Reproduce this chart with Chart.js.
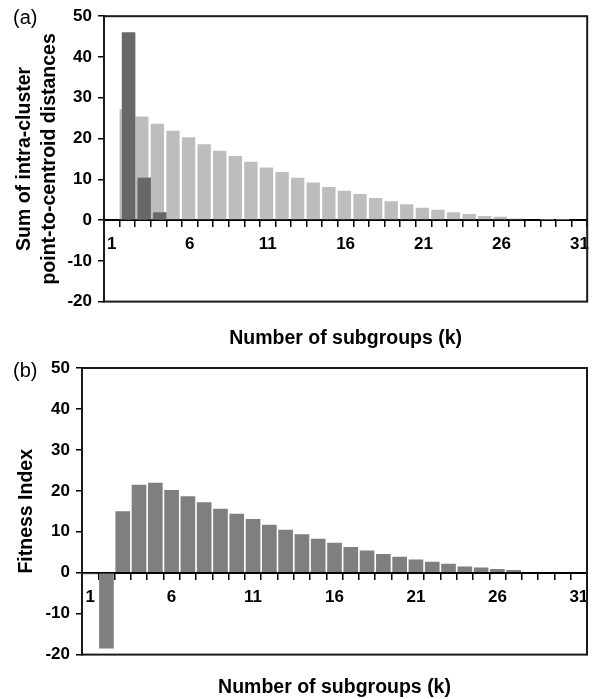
<!DOCTYPE html>
<html>
<head>
<meta charset="utf-8">
<script src="https://cdn.jsdelivr.net/npm/chart.js@4.4.1/dist/chart.umd.min.js"></script>
<style>
body { margin: 0; background: #fff; font-family: "Liberation Sans", Arial, sans-serif; }
#wrap { position: relative; width: 597px; height: 699px; }
canvas { position: absolute; left: 0; }
.tag { position: absolute; left: 13px; font-size: 20px; line-height: 24px; color: #000; }
</style>
</head>
<body>
<div id="wrap">
	<canvas id="cvsA" width="597" height="350" style="top:0px"></canvas>
	<canvas id="cvsB" width="597" height="349" style="top:350px"></canvas>
	<div class="tag" style="top:5px">(a)</div>
	<div class="tag" style="top:358px">(b)</div>
</div>
<script>
// number of subgroups k
var subgroups = [1, 2, 3, 4, 5, 6, 7, 8, 9, 10, 11, 12, 13, 14, 15, 16, 17, 18, 19, 20, 21, 22, 23, 24, 25, 26, 27, 28, 29, 30, 31];
var shownTicks = [1, 6, 11, 16, 21, 26, 31];

// (a) sum of intra-cluster point-to-centroid distances
var distances = [0.2, 27.2, 25.4, 23.6, 21.9, 20.3, 18.6, 17.0, 15.7, 14.3, 12.9, 11.8, 10.4, 9.2, 8.1, 7.2, 6.4, 5.4, 4.6, 3.9, 3.0, 2.5, 1.9, 1.5, 1.0, 0.8, 0.4, 0.2, 0.05, 0.05, 0.2];
var distanceDrop = [null, 46.0, 10.4, 1.9, null, null, null, null, null, null, null, null, null, null, null, null, null, null, null, null, null, null, null, null, null, null, null, null, null, null, null];

// (b) fitness index
var fitness = [-0.4, -18.5, 15.0, 21.5, 22.0, 20.2, 18.7, 17.2, 15.6, 14.4, 13.1, 11.7, 10.5, 9.4, 8.3, 7.3, 6.3, 5.4, 4.6, 3.9, 3.2, 2.7, 2.2, 1.5, 1.3, 0.9, 0.65, 0.2, 0.15, 0.2, -0.2];

var yTicks = { min: -20, max: 50, step: 10 };

Chart.defaults.font.family = '"Liberation Sans", Arial, sans-serif';
Chart.defaults.color = "#000";

// box around the plot area + put the dark series back on top
var framePlugin = {
	id: "frame",
	afterDatasetsDraw: function(chart) {
		var meta = chart.getDatasetMeta(1);
		if (meta && meta.controller && !meta.hidden) {
			meta.controller.draw();
		}
	},
	afterDraw: function(chart) {
		var a = chart.chartArea;
		var ctx = chart.ctx;
		ctx.save();
		ctx.strokeStyle = "#1a1a1a";
		ctx.lineWidth = 2;
		ctx.strokeRect(a.left, a.top, a.right - a.left, a.bottom - a.top);
		ctx.restore();
	}
};

function buildScales(axisWidth, yTitle, yTitlePad) {
	return {
		x: {
			type: "category",
			position: { y: 0 },
			offset: true,
			grid: { offset: true, drawOnChartArea: false, drawTicks: true, tickLength: 6, color: "#000", lineWidth: 1.5 },
			border: { display: true, color: "#000", width: 2 },
			ticks: {
				autoSkip: false,
				maxRotation: 0,
				padding: 8,
				font: { size: 17, weight: "bold" },
				callback: function(value, index) {
					var k = subgroups[index];
					return shownTicks.indexOf(k) >= 0 ? String(k) : "";
				}
			}
		},
		y: {
			min: yTicks.min,
			max: yTicks.max,
			grid: { drawOnChartArea: false, drawTicks: true, tickLength: 6, color: "#000", lineWidth: 1.5 },
			border: { display: true, color: "#000", width: 2 },
			ticks: { stepSize: yTicks.step, padding: 6, font: { size: 17, weight: "bold" } },
			title: {
				display: true,
				text: yTitle,
				font: { size: 19.5, weight: "bold", lineHeight: 1.3 },
				padding: { top: yTitlePad, bottom: 0 }
			},
			afterFit: function(scale) {
				scale.width = axisWidth;
			}
		}
	};
}

function drawChart(cvs, datasets, opts) {
	new Chart(cvs, {
		type: "bar",
		data: {
			labels: subgroups,
			datasets: datasets
		},
		options: {
			responsive: false,
			maintainAspectRatio: false,
			animation: false,
			layout: { padding: { top: opts.padTop, right: opts.padRight, bottom: 0, left: 0 } },
			scales: buildScales(opts.axisWidth, opts.yTitle, opts.yTitlePad),
			plugins: {
				legend: { display: false },
				tooltip: { enabled: false },
				title: {
					display: true,
					position: "bottom",
					fullSize: false,
					text: "Number of subgroups (k)",
					color: "#000",
					font: { size: 19.5, weight: "bold", lineHeight: 1.2 },
					padding: { top: opts.titlePadTop, bottom: opts.titlePadBottom }
				}
			}
		},
		plugins: [framePlugin]
	});
}

drawChart(document.getElementById("cvsA"), [
	{
		label: "Sum of distances",
		data: distances,
		backgroundColor: "#bdbdbd",
		borderWidth: 0,
		categoryPercentage: 0.3,
		barPercentage: 5.7
	},
	{
		label: "Drop",
		data: distanceDrop,
		backgroundColor: "#686868",
		borderWidth: 0,
		categoryPercentage: 0.3,
		barPercentage: 5.7
	}
], {
	axisWidth: 104,
	padTop: 13,
	padRight: 8,
	yTitle: ["Sum of intra-cluster", "point-to-centroid distances"],
	yTitlePad: 12,
	titlePadTop: 25,
	titlePadBottom: 0
});

drawChart(document.getElementById("cvsB"), [
	{
		label: "Fitness Index",
		data: fitness,
		backgroundColor: "#7f7f7f",
		borderWidth: 0,
		categoryPercentage: 1,
		barPercentage: 0.9
	}
], {
	axisWidth: 82,
	padTop: 18,
	padRight: 10,
	yTitle: "Fitness Index",
	yTitlePad: 14,
	titlePadTop: 21,
	titlePadBottom: 0
});
</script>
</body>
</html>
